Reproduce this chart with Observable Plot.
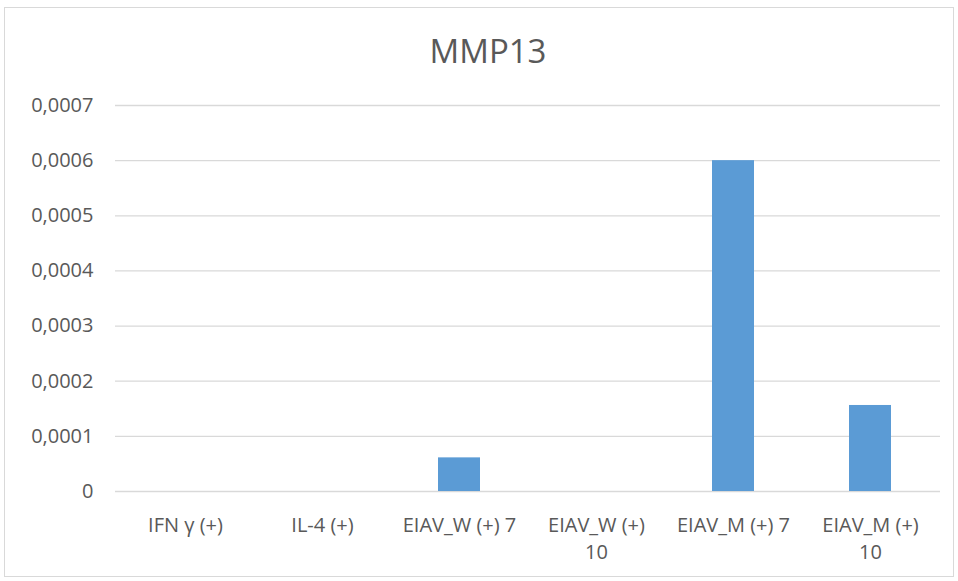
<!DOCTYPE html>
<html>
<head>
<meta charset="utf-8">
<script src="https://cdn.jsdelivr.net/npm/d3@7"></script>
<script src="https://cdn.jsdelivr.net/npm/@observablehq/plot@0.6"></script>
<style>
  html, body { margin: 0; padding: 0; background: #fff; }
  #wrap { position: relative; width: 958px; height: 581px; }
  #border { position: absolute; left: 4px; top: 7px; width: 950px; height: 570px; border: 1px solid #d9d9d9; box-sizing: border-box; pointer-events: none; }
  svg { display: block; }
</style>
</head>
<body>
<div id="wrap"><div id="border"></div></div>
<script>
const title = "MMP13";
const categories = ["IFN γ (+)", "IL-4 (+)", "EIAV_W (+) 7", "EIAV_W (+)\n10", "EIAV_M (+) 7", "EIAV_M (+)\n10"];
const values = [0, 0, 0.000061, 0, 0.0006, 0.000156];
const yTicks = [0, 0.0001, 0.0002, 0.0003, 0.0004, 0.0005, 0.0006, 0.0007];
const yTickLabels = ["0", "0,0001", "0,0002", "0,0003", "0,0004", "0,0005", "0,0006", "0,0007"];

const data = categories.map((c, i) => ({cat: c, v: values[i]}));

const chart = Plot.plot({
  width: 958,
  height: 581,
  marginLeft: 115,
  marginRight: 18,
  marginTop: 105,
  marginBottom: 90,
  style: {fontFamily: "'Open Sans', sans-serif", fontSize: "20px", color: "#595959", background: "transparent"},
  x: {domain: categories, paddingInner: 0.695, paddingOuter: 0.3475, label: null},
  y: {domain: [0, 0.0007], label: null},
  marks: [
    Plot.gridY(yTicks, {stroke: "#d9d9d9", strokeOpacity: 1, strokeWidth: 1.3}),
    Plot.barY(data, {x: "cat", y: "v", fill: "#5b9bd5"}),
    Plot.axisY({ticks: yTicks, tickSize: 0, tickPadding: 22, tickFormat: d => yTickLabels[yTicks.indexOf(d)], fill: "#595959"}),
    Plot.axisX({tickSize: 0, tickPadding: 21, lineHeight: 1.35, fill: "#595959"}),
    Plot.text([title], {frameAnchor: "top", dy: -53, dx: -40, text: d => d, fontSize: 33, fill: "#595959", lineAnchor: "middle"})
  ]
});
document.getElementById("wrap").prepend(chart);
</script>
</body>
</html>
